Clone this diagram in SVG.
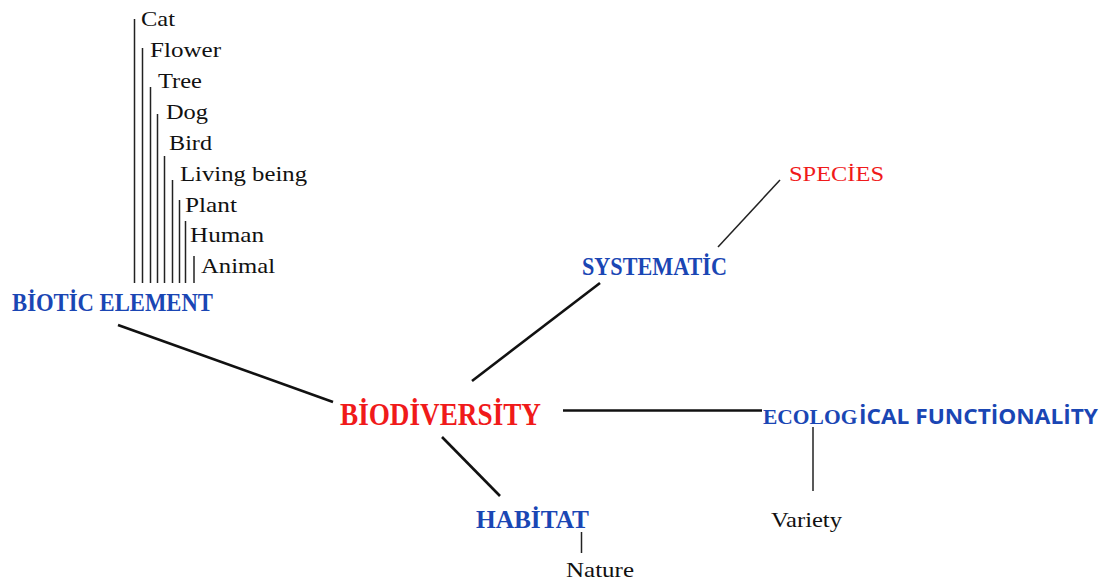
<svg xmlns="http://www.w3.org/2000/svg" width="1107" height="580" viewBox="0 0 1107 580">
<style>
.leaf{font-family:"Liberation Serif",serif;font-size:22px;fill:#111}
.deco{font-family:"Liberation Serif",serif;font-weight:bold;fill:#1a46b4}
.red{fill:#f01a1a}
.sans{font-family:"Open Sans","Liberation Sans",sans-serif;font-weight:bold}
.thick{stroke:#111;stroke-width:2.6;fill:none}
.thin{stroke:#222;stroke-width:1.5;fill:none}
</style>
<rect width="1107" height="580" fill="#fff"/>
<g id="connectors">
<line class="thin" x1="134.5" y1="19" x2="134.5" y2="283"/>
<line class="thin" x1="142.5" y1="48" x2="142.5" y2="283"/>
<line class="thin" x1="150.5" y1="87" x2="150.5" y2="283"/>
<line class="thin" x1="157.5" y1="114" x2="157.5" y2="283"/>
<line class="thin" x1="164.5" y1="156" x2="164.5" y2="283"/>
<line class="thin" x1="172.5" y1="180" x2="172.5" y2="283"/>
<line class="thin" x1="179.5" y1="200" x2="179.5" y2="283"/>
<line class="thin" x1="185.5" y1="221" x2="185.5" y2="283"/>
<line class="thin" x1="194" y1="256" x2="194" y2="283"/>
<line class="thick" x1="118" y1="325" x2="333" y2="402"/>
<line class="thick" x1="472" y1="381" x2="600" y2="283"/>
<line class="thick" x1="563" y1="410.5" x2="762" y2="410.5"/>
<line class="thick" x1="442" y1="437" x2="500" y2="496"/>
<line class="thin" x1="718" y1="247" x2="780" y2="180"/>
<line class="thin" x1="581.5" y1="532" x2="581.5" y2="553"/>
<line class="thin" x1="813" y1="427" x2="813" y2="491"/>
</g>
<g id="cat"><text class="leaf" x="141" y="26" textLength="34" lengthAdjust="spacingAndGlyphs">Cat</text></g>
<g id="flower"><text class="leaf" x="150" y="57" textLength="71" lengthAdjust="spacingAndGlyphs">Flower</text></g>
<g id="tree"><text class="leaf" x="158" y="88" textLength="44" lengthAdjust="spacingAndGlyphs">Tree</text></g>
<g id="dog"><text class="leaf" x="166" y="119" textLength="42" lengthAdjust="spacingAndGlyphs">Dog</text></g>
<g id="bird"><text class="leaf" x="169" y="150" textLength="43" lengthAdjust="spacingAndGlyphs">Bird</text></g>
<g id="living-being"><text class="leaf" x="180" y="181" textLength="127" lengthAdjust="spacingAndGlyphs">Living being</text></g>
<g id="plant"><text class="leaf" x="185" y="212" textLength="52" lengthAdjust="spacingAndGlyphs">Plant</text></g>
<g id="human"><text class="leaf" x="190" y="242" textLength="74" lengthAdjust="spacingAndGlyphs">Human</text></g>
<g id="animal"><text class="leaf" x="201" y="273" textLength="74" lengthAdjust="spacingAndGlyphs">Animal</text></g>
<g id="biotic-element"><text class="deco" x="12" y="311" font-size="25" textLength="201" lengthAdjust="spacingAndGlyphs">BİOTİC ELEMENT</text></g>
<g id="biodiversity"><text class="deco red" x="340" y="425" font-size="31" textLength="201" lengthAdjust="spacingAndGlyphs">BİODİVERSİTY</text></g>
<g id="systematic"><text class="deco" x="582" y="275" font-size="25" textLength="145" lengthAdjust="spacingAndGlyphs">SYSTEMATİC</text></g>
<g id="species"><text x="789" y="181" font-family="Liberation Serif, serif" font-size="21" fill="#f01a1a" textLength="95" lengthAdjust="spacingAndGlyphs">SPECİES</text></g>
<g id="ecological"><text class="deco" x="763" y="424" font-size="21.5">ECOLOG</text><text class="deco sans" x="859" y="424" font-size="21" textLength="239" lengthAdjust="spacingAndGlyphs">İCAL FUNCTİONALİTY</text></g>
<g id="habitat"><text class="deco" x="476" y="528" font-size="25" textLength="113" lengthAdjust="spacingAndGlyphs">HABİTAT</text></g>
<g id="nature"><text class="leaf" x="566" y="577" textLength="68" lengthAdjust="spacingAndGlyphs">Nature</text></g>
<g id="variety"><text class="leaf" x="771" y="527" textLength="71" lengthAdjust="spacingAndGlyphs">Variety</text></g>
</svg>
